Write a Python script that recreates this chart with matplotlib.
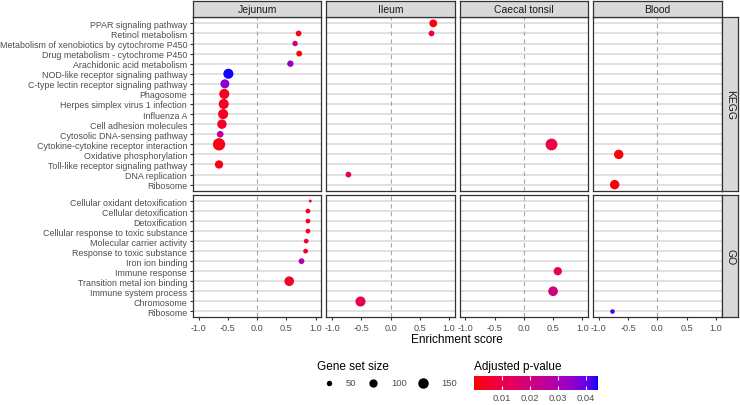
import numpy as np
import matplotlib.pyplot as plt
from matplotlib.colors import ListedColormap, Normalize
from matplotlib.colorbar import ColorbarBase

plt.rcParams['font.family'] = ['Liberation Sans', 'DejaVu Sans']

tissues = ["Jejunum", "Ileum", "Caecal tonsil", "Blood"]
databases = ["KEGG", "GO"]

kegg_terms = ["PPAR signaling pathway", "Retinol metabolism",
              "Metabolism of xenobiotics by cytochrome P450",
              "Drug metabolism - cytochrome P450", "Arachidonic acid metabolism",
              "NOD-like receptor signaling pathway", "C-type lectin receptor signaling pathway",
              "Phagosome", "Herpes simplex virus 1 infection", "Influenza A",
              "Cell adhesion molecules", "Cytosolic DNA-sensing pathway",
              "Cytokine-cytokine receptor interaction", "Oxidative phosphorylation",
              "Toll-like receptor signaling pathway", "DNA replication", "Ribosome"]
go_terms = ["Cellular oxidant detoxification", "Cellular detoxification", "Detoxification",
            "Cellular response to toxic substance", "Molecular carrier activity",
            "Response to toxic substance", "Iron ion binding", "Immune response",
            "Transition metal ion binding", "Immune system process", "Chromosome", "Ribosome"]

# one entry per point
pt_db = ["KEGG"] * 19 + ["GO"] * 12
pt_tissue = (["Jejunum"] * 13 + ["Ileum"] * 3 + ["Caecal tonsil"] + ["Blood"] * 2
             + ["Jejunum"] * 8 + ["Ileum"] + ["Caecal tonsil"] * 2 + ["Blood"])
pt_term = ["Retinol metabolism", "Metabolism of xenobiotics by cytochrome P450",
           "Drug metabolism - cytochrome P450", "Arachidonic acid metabolism",
           "NOD-like receptor signaling pathway", "C-type lectin receptor signaling pathway",
           "Phagosome", "Herpes simplex virus 1 infection", "Influenza A",
           "Cell adhesion molecules", "Cytosolic DNA-sensing pathway",
           "Cytokine-cytokine receptor interaction", "Toll-like receptor signaling pathway",
           "PPAR signaling pathway", "Retinol metabolism", "DNA replication",
           "Cytokine-cytokine receptor interaction",
           "Oxidative phosphorylation", "Ribosome",
           "Cellular oxidant detoxification", "Cellular detoxification", "Detoxification",
           "Cellular response to toxic substance", "Molecular carrier activity",
           "Response to toxic substance", "Iron ion binding", "Transition metal ion binding",
           "Chromosome", "Immune response", "Immune system process", "Ribosome"]
pt_score = [0.71, 0.65, 0.72, 0.57, -0.49, -0.55, -0.56, -0.57, -0.58, -0.60, -0.63, -0.65, -0.65,
            0.73, 0.70, -0.72, 0.46, -0.66, -0.73,
            0.91, 0.87, 0.87, 0.87, 0.84, 0.83, 0.76, 0.55, -0.53, 0.58, 0.50, -0.77]
pt_padj = [0.002, 0.020, 0.001, 0.033, 0.044, 0.035, 0.003, 0.003, 0.003, 0.004, 0.025, 0.002, 0.002,
           0.001, 0.006, 0.012, 0.009, 0.001, 0.001,
           0.006, 0.004, 0.004, 0.004, 0.005, 0.005, 0.028, 0.004, 0.011, 0.012, 0.020, 0.042]
pt_size = [55, 50, 55, 65, 140, 115, 140, 140, 140, 125, 70, 200, 100,
           90, 55, 55, 185, 125, 125,
           20, 40, 40, 40, 40, 40, 55, 130, 140, 100, 130, 38]

size_breaks = [50, 100, 150]
padj_lim = (0.0, 0.0442)
padj_breaks = [0.01, 0.02, 0.03, 0.04]


# red -> blue gradient interpolated in Lab space (like ggplot)
M = np.array([[0.4124, 0.3576, 0.1805], [0.2126, 0.7152, 0.0722], [0.0193, 0.1192, 0.9505]])
WHITE = np.array([0.95047, 1.0, 1.08883])


def to_lab(rgb):
    c = np.asarray(rgb, float)
    lin = np.where(c <= 0.04045, c / 12.92, ((c + 0.055) / 1.055) ** 2.4)
    xyz = M @ lin / WHITE
    f = np.where(xyz > 0.008856, np.cbrt(xyz), 7.787 * xyz + 16 / 116)
    return np.array([116 * f[1] - 16, 500 * (f[0] - f[1]), 200 * (f[1] - f[2])])


def from_lab(lab):
    fy = (lab[0] + 16) / 116
    f = np.array([fy + lab[1] / 500, fy, fy - lab[2] / 200])
    xyz = np.where(f ** 3 > 0.008856, f ** 3, (f - 16 / 116) / 7.787) * WHITE
    lin = np.clip(np.linalg.inv(M) @ xyz, 0, 1)
    c = np.where(lin <= 0.0031308, 12.92 * lin, 1.055 * lin ** (1 / 2.4) - 0.055)
    return np.clip(c, 0, 1)


la, lb = to_lab([1, 0, 0]), to_lab([0, 0, 1])
cmap = ListedColormap([from_lab(la + (lb - la) * t) for t in np.linspace(0, 1, 256)])
norm = Normalize(*padj_lim)


def diam_pt(n):
    return (-1.4 + 0.97 * np.sqrt(n)) * 0.72


W, H = 740, 406
fig = plt.figure(figsize=(W / 100, H / 100), dpi=100)


def ax_px(x0, y0, w, h):
    return fig.add_axes([x0 / W, 1 - (y0 + h) / H, w / W, h / H])


col_x = [192.7, 326.2, 459.5, 593.0]
col_w = 128.7
row_y = {"KEGG": (18.3, 173.4), "GO": (196.0, 122.3)}
terms_of = {"KEGG": kegg_terms, "GO": go_terms}
edge = '#333333'

for db in databases:
    terms = terms_of[db]
    y0, h = row_y[db]
    for ci, tis in enumerate(tissues):
        ax = ax_px(col_x[ci], y0, col_w, h)
        ax.set_xlim(-1.1, 1.1)
        ax.set_ylim(len(terms) - 1 + 0.6, -0.6)
        for i in range(len(terms)):
            ax.axhline(i, color='#DCDCDC', lw=1.2, zorder=0)
        ax.axvline(0, color='#A8A8A8', lw=0.8, ls=(0, (4, 3)), zorder=1)
        idx = [k for k in range(len(pt_db)) if pt_db[k] == db and pt_tissue[k] == tis]
        if idx:
            ys = [terms.index(pt_term[k]) for k in idx]
            xs = [pt_score[k] for k in idx]
            ss = [diam_pt(pt_size[k]) ** 2 for k in idx]
            cs = [cmap(norm(pt_padj[k])) for k in idx]
            ax.scatter(xs, ys, s=ss, c=cs, linewidths=0, zorder=3)
        for sp in ax.spines.values():
            sp.set_color(edge)
            sp.set_linewidth(0.9)
        ax.tick_params(length=2.5, color=edge, labelcolor='#4D4D4D', labelsize=6.6, pad=1.5)
        if ci == 0:
            ax.set_yticks(range(len(terms)))
            ax.set_yticklabels(terms, fontsize=6.4)
        else:
            ax.set_yticks([])
        if db == "GO":
            ax.set_xticks([-1, -0.5, 0, 0.5, 1])
            ax.set_xticklabels(["-1.0", "-0.5", "0.0", "0.5", "1.0"])
        else:
            ax.set_xticks([])

    # right strip
    sax = ax_px(721.7, y0, 16.6, h)
    sax.set_facecolor('#D9D9D9')
    sax.set_xticks([]); sax.set_yticks([])
    for sp in sax.spines.values():
        sp.set_color(edge); sp.set_linewidth(0.9)
    sax.text(0.5, 0.5, db, rotation=-90, ha='center', va='center', fontsize=7.5,
             color='#1A1A1A', transform=sax.transAxes)

# top strips
for ci, tis in enumerate(tissues):
    sax = ax_px(col_x[ci], 1.7, col_w, 16.6)
    sax.set_facecolor('#D9D9D9')
    sax.set_xticks([]); sax.set_yticks([])
    for sp in sax.spines.values():
        sp.set_color(edge); sp.set_linewidth(0.9)
    sax.text(0.5, 0.5, tis, ha='center', va='center', fontsize=7.5, color='#1A1A1A',
             transform=sax.transAxes)

fig.text(457 / W, 1 - 340 / H, "Enrichment score", ha='center', va='center', fontsize=8.5)

# size legend
lax = fig.add_axes([0, 0, 1, 1])
lax.set_xlim(0, W); lax.set_ylim(H, 0); lax.axis('off')
lax.text(316.7, 366.7, "Gene set size", ha='left', va='center', fontsize=8.5)
for bx, lx, n in zip([329, 373, 423], [346, 391, 441], size_breaks):
    lax.scatter([bx], [384], s=diam_pt(n) ** 2, color='black', linewidths=0)
    lax.text(lx, 384, str(n), ha='left', va='center', fontsize=6.8, color='#4D4D4D')
lax.text(474.3, 366.7, "Adjusted p-value", ha='left', va='center', fontsize=8.5)

# colour bar
cax = ax_px(474.3, 376.7, 123.4, 14.3)
cb = ColorbarBase(cax, cmap=cmap, norm=norm, orientation='horizontal', ticks=padj_breaks)
cb.outline.set_visible(False)
cax.set_xticklabels(["0.01", "0.02", "0.03", "0.04"])
cax.tick_params(axis='x', direction='in', color='white', length=3, width=0.8,
                top=True, labelsize=6.8, labelcolor='#4D4D4D', pad=2.5)

fig.savefig("out.png", dpi=100)
